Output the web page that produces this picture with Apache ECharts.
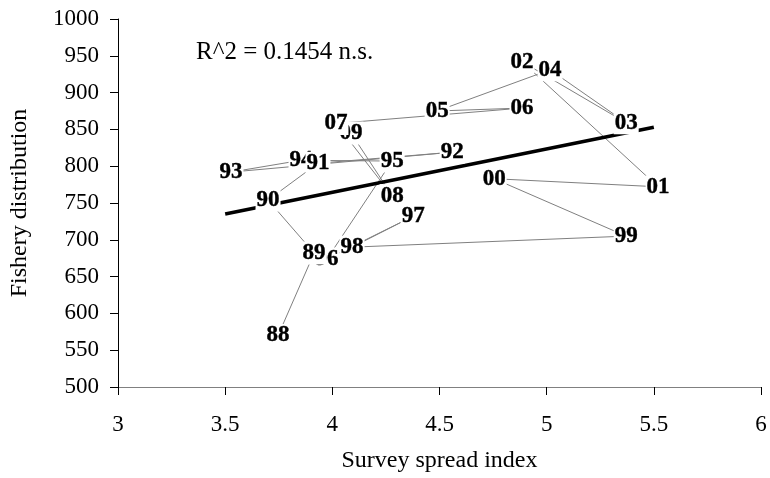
<!DOCTYPE html>
<html>
<head>
<meta charset="utf-8">
<script src="https://cdn.jsdelivr.net/npm/echarts@6/dist/echarts.min.js"></script>
<style>html,body{margin:0;padding:0;background:#fff}#c{width:770px;height:478px}</style>
</head>
<body>
<div id="c"></div>
<script>
// Year labels (chronological order)
const years = ['88','89','90','91','92','93','94','95','96','97','98','99','00','01','02','03','04','05','06','07','08','09'];
// Survey spread index (x)
const surveyX = [3.747,3.915,3.700,3.933,4.559,3.527,3.854,4.279,3.975,4.377,4.092,5.371,4.755,5.520,4.885,5.371,5.016,4.489,4.885,4.017,4.279,4.087];
// Fishery distribution (y)
const fisheryY = [570,682,754,804,819,792,808,807,674,732,690,705,783,772,942,859,931,875,879,858,760,845];
// Regression line end points
const trendX = [3.5, 5.5];
const trendY = [735, 853];
const r2Text = 'R^2 = 0.1454 n.s.';
const xTicks = {min: 3, max: 6, interval: 0.5};
const yTicks = {min: 500, max: 1000, interval: 50};

const path = years.map((y, i) => [surveyX[i], fisheryY[i]]);
const labelData = years.map((y, i) => ({name: y, value: [surveyX[i], fisheryY[i]]})).reverse();
const trend = trendX.map((x, i) => [x, trendY[i]]);

const serif = "'Liberation Serif','Times New Roman',serif";
const chart = echarts.init(document.getElementById('c'));
chart.setOption({
  animation: false,
  backgroundColor: '#fff',
  grid: {left: 118, right: 9, top: 19, bottom: 91, containLabel: false, outerBoundsMode: 'none'},
  xAxis: {
    type: 'value', min: xTicks.min, max: xTicks.max, interval: xTicks.interval,
    name: 'Survey spread index', nameLocation: 'middle', nameGap: 62,
    nameTextStyle: {fontFamily: serif, fontSize: 24, color: '#000'},
    axisLine: {show: true, lineStyle: {color: '#808080', width: 1}},
    axisTick: {show: true, length: 8, lineStyle: {color: '#000'}},
    axisLabel: {fontFamily: serif, fontSize: 23, color: '#000', margin: 26},
    splitLine: {show: false}
  },
  yAxis: {
    type: 'value', min: yTicks.min, max: yTicks.max, interval: yTicks.interval,
    name: 'Fishery distribution', nameLocation: 'middle', nameGap: 86,
    nameTextStyle: {fontFamily: serif, fontSize: 24, color: '#000'},
    axisLine: {show: true, lineStyle: {color: '#000', width: 1}},
    axisTick: {show: true, length: 8, lineStyle: {color: '#000'}},
    axisLabel: {fontFamily: serif, fontSize: 23, color: '#000', margin: 19,
      formatter: v => String(v)},
    splitLine: {show: false}
  },
  graphic: [{
    type: 'text', left: 196, top: 40, z: 10,
    style: {text: r2Text, font: "25px 'Liberation Serif'", fill: '#000'}
  }],
  series: [
    {
      type: 'line', data: path, showSymbol: false, z: 2, silent: true,
      lineStyle: {color: '#808080', width: 1}
    },
    {
      type: 'line', data: trend, showSymbol: false, z: 2, silent: true,
      lineStyle: {color: '#000', width: 3.5}
    },
    {
      type: 'scatter', data: labelData, symbolSize: 0, z: 5,
      itemStyle: {opacity: 1},
      label: {
        show: true, position: 'inside',
        formatter: p => p.name,
        fontFamily: serif, fontWeight: 'bold', fontSize: 23, color: '#000',
        textBorderColor: '#000', textBorderWidth: 0.4, opacity: 1,
        backgroundColor: '#fff', padding: [0, 1, 0, 1], lineHeight: 23
      }
    }
  ]
});
</script>
</body>
</html>
